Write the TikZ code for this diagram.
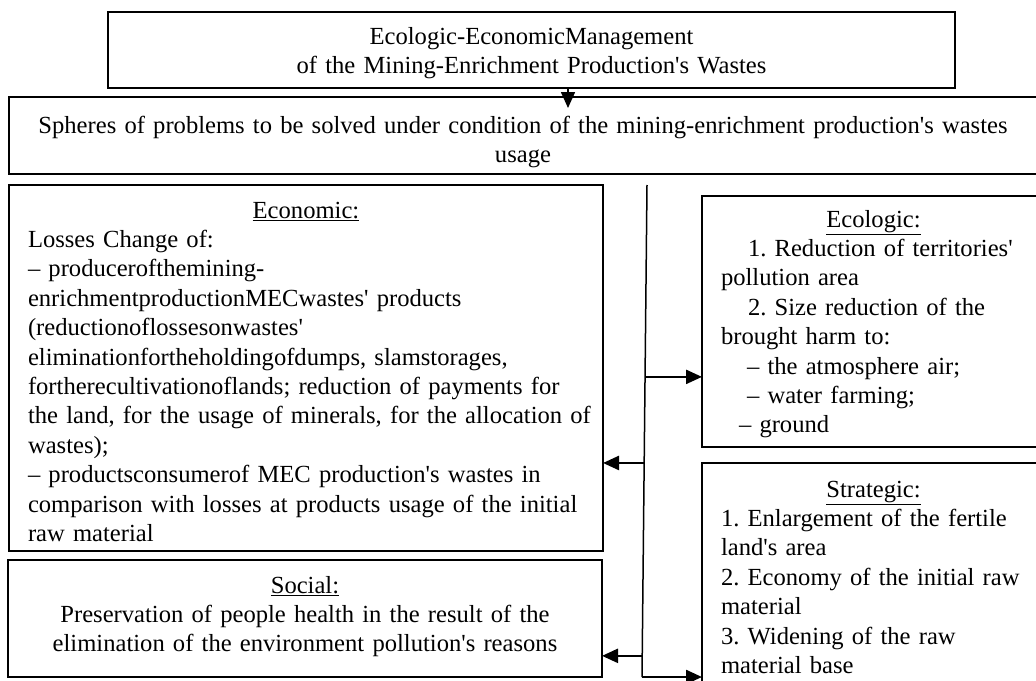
\documentclass[tikz,border=0pt]{standalone}
\usepackage{fontspec}
\setmainfont{Liberation Serif}
\usetikzlibrary{positioning,arrows.meta,calc}
\newcommand{\apos}{\textquotesingle}
\frenchspacing

\begin{document}
\begin{tikzpicture}[
	x=1pt, y=-1pt,
	font=\fontsize{24.6}{29.4}\selectfont,
	box/.style={
		draw,
		line width=1.4pt,
		anchor=north west,
		outer sep=0pt,
		inner ysep=0pt,
		inner xsep=19pt,
	},
	head/.style={box, inner xsep=10pt, align=center},
	arr/.style={-{Triangle[length=16pt,width=14pt]}, line width=2.4pt},
	bus/.style={line width=1.5pt},
]

% only the visible part of the sheet
\clip (0,0) rectangle (1036,680);

% Upper boxes
\node[head, text width=827pt, text height=32pt, text depth=44pt] (title) at (108,12)
	{Ecologic-EconomicManagement\\of the Mining-Enrichment Production\apos s Wastes};
\node[head, text width=1008pt, text height=36pt, text depth=41pt] (spheres) at (9,97)
	{Spheres of problems to be solved under condition of the mining-enrichment production\apos s wastes\\usage};

% Spheres on the left
\node[box, text width=556pt, text height=33pt, text depth=333pt, align=left] (economic) at (9,185)
	{{\centering\underline{Economic:}\par}Losses Change of:\\
	– producerofthemining-\\
	enrichmentproductionMECwastes\apos{} products\\
	(reductionoflossesonwastes\apos\\
	eliminationfortheholdingofdumps, slamstorages,\\
	fortherecultivationoflands; reduction of payments for\\
	\mbox{the land, for the usage of minerals, for the allocation of}\\
	wastes);\\
	– productsconsumerof MEC production\apos s wastes in\\
	comparison with losses at products usage of the initial\\
	raw material};
\node[box, text width=556pt, text height=33pt, text depth=84pt, align=center] (social) at (8,560)
	{\underline{Social:}\\Preservation of people health in the result of the\\elimination of the environment pollution\apos s reasons};

% Spheres on the right
\node[box, text width=305pt, text height=31pt, text depth=220pt, align=left] (ecologic) at (702,196)
	{{\centering\underline{Ecologic:}\par}\hspace*{27pt}1. Reduction of territories\apos\\
	pollution area\\
	\hspace*{27pt}2. Size reduction of the\\
	brought harm to:\\
	\hspace*{26pt}– the atmosphere air;\\
	\hspace*{26pt}– water farming;\\
	\hspace*{18pt}– ground};
\node[box, text width=305pt, text height=34pt, text depth=250pt, align=left] (strategic) at (702,463)
	{{\centering\underline{Strategic:}\par}1. Enlargement of the fertile\\
	land\apos s area\\
	2. Economy of the initial raw\\
	material\\
	3. Widening of the raw\\
	material base};

% Arrows
\draw[arr, line width=1.6pt, shorten >=-11pt] ([xshift=36.5pt]title.south) -- ([xshift=36.5pt]title.south |- spheres.north);

\coordinate (busTop) at (647,185);
\coordinate (busBot) at (642,677);
\coordinate (jEcol) at ($(busTop)!0.39!(busBot)$);
\coordinate (jEcon) at ($(busTop)!0.565!(busBot)$);
\coordinate (jSoc)  at ($(busTop)!0.957!(busBot)$);

\draw[bus] (busTop) -- (busBot);
\draw[arr] (jEcol) -- (jEcol -| ecologic.west);
\draw[arr] (jEcon) -- (jEcon -| economic.east);
\draw[arr] (jSoc)  -- (jSoc -| social.east);
\draw[arr] (busBot) -- (busBot -| strategic.west);

\end{tikzpicture}
\end{document}
